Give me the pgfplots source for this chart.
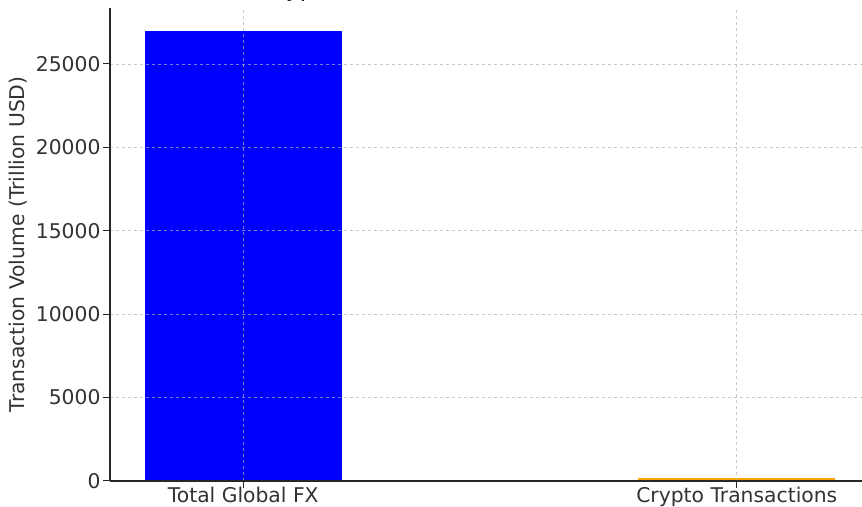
\documentclass[border=0pt]{standalone}
\usepackage{pgfplots}
\pgfplotsset{compat=1.18}
\usepackage{fontspec}
\setmainfont{DejaVu Sans}
\definecolor{mplorange}{HTML}{FFA500}
\definecolor{txt}{HTML}{333333}
\begin{document}
\begin{tikzpicture}
\begin{axis}[
    at={(110pt,25pt)}, anchor=south west,
    scale only axis, width=760pt, height=473pt,
    xmin=-0.27, xmax=1.27, ymin=0, ymax=28350,
    axis x line*=bottom, axis y line*=left,
    axis line style={line width=1.1pt, draw=black!85},
    ybar, bar width=0.4, bar shift=0pt,
    xtick={0,1}, xticklabels={Total Global FX, Crypto Transactions},
    ytick={0,5000,10000,15000,20000,25000},
    scaled y ticks=false,
    /pgf/number format/1000 sep={},
    /pgf/number format/assume math mode=true,
    tick label style={font=\fontsize{20.3}{23}\selectfont, text=txt},
    xticklabel style={yshift=4pt},
    yticklabel style={xshift=1pt},
    tick align=outside, major tick length=7pt,
    tick style={line width=1pt, draw=black!85},
    grid=major,
    major grid style={dashed, line width=0.7pt, draw=gray!60, opacity=0.7},
    axis on top,
    ylabel={Transaction Volume (Trillion USD)},
    ylabel style={font=\fontsize{20.3}{23}\selectfont, text=txt, yshift=2pt},
]
\addplot[fill=blue, draw=none] coordinates {(0,27000)};
\addplot[fill=mplorange, draw=none] coordinates {(1,200)};
\end{axis}
% title, cut off by the top edge as in the reference
\node[anchor=base, font=\fontsize{23.4}{28}\selectfont, text=black] at (478pt,509pt)
    {Total FX vs Crypto Transaction Volume in Trillion USD (2023)};
\pgfresetboundingbox
\path[use as bounding box] (0,0) rectangle (862pt,506pt);
\end{tikzpicture}
\end{document}
